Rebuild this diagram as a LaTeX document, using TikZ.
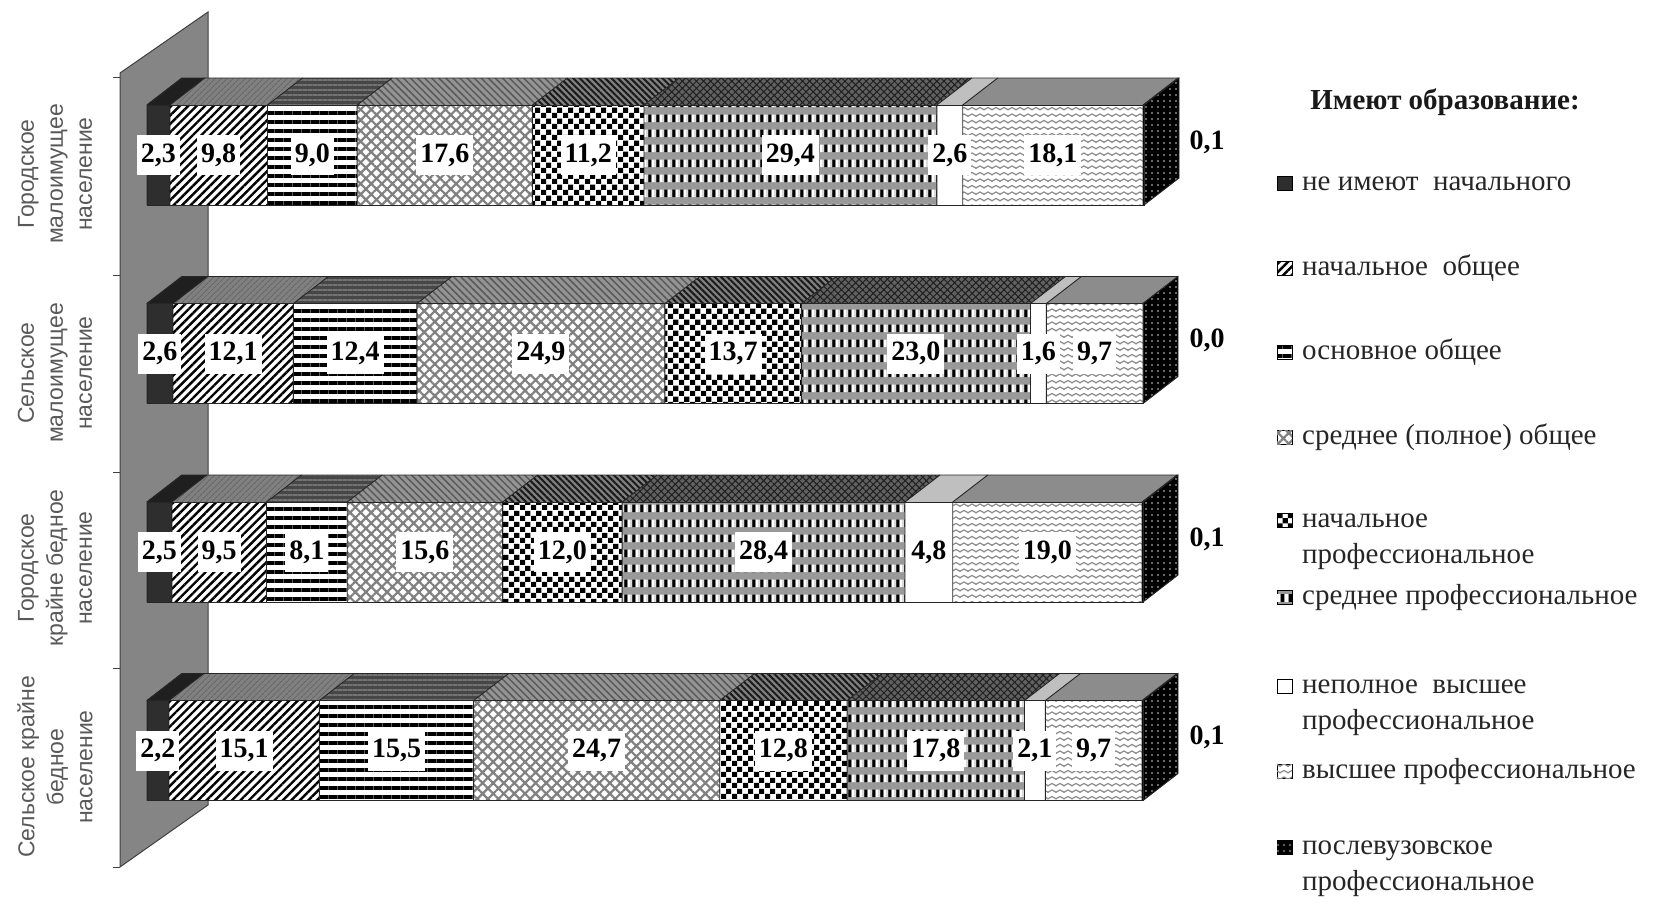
\documentclass[tikz,border=0pt]{standalone}
\usepackage{fontspec}
\setmainfont{Liberation Serif}
\newfontfamily\catfont{Liberation Sans}
\usetikzlibrary{patterns,patterns.meta}

\pgfdeclarepatternformonly{mychecker}{\pgfpointorigin}{\pgfqpoint{10.6pt}{10.6pt}}{\pgfqpoint{10.6pt}{10.6pt}}{%
 \pgfpathrectangle{\pgfpointorigin}{\pgfqpoint{5.3pt}{5.3pt}}%
 \pgfpathrectangle{\pgfqpoint{5.3pt}{5.3pt}}{\pgfqpoint{5.3pt}{5.3pt}}%
 \pgfusepath{fill}}

\pgfdeclarepatterninherentlycolored{vdash}{\pgfpointorigin}{\pgfqpoint{8pt}{15pt}}{\pgfqpoint{8pt}{15pt}}{%
 \pgfsetfillcolor{black}\pgfpathrectangle{\pgfqpoint{0.5pt}{3pt}}{\pgfqpoint{3pt}{8pt}}\pgfusepath{fill}%
 \pgfsetfillcolor{white}\pgfpathrectangle{\pgfqpoint{4.5pt}{3pt}}{\pgfqpoint{3pt}{8pt}}\pgfusepath{fill}}

\pgfdeclarepatternformonly{wavy}{\pgfqpoint{-1pt}{-1pt}}{\pgfqpoint{9pt}{7.5pt}}{\pgfqpoint{8pt}{6.5pt}}{%
 \pgfsetlinewidth{1.2pt}%
 \pgfpathmoveto{\pgfqpoint{-0.5pt}{2pt}}\pgfpathlineto{\pgfqpoint{4pt}{4.5pt}}\pgfpathlineto{\pgfqpoint{8.5pt}{2pt}}%
 \pgfusepath{stroke}}

\tikzset{
 edge/.style={draw=black!85, line width=0.9pt},
 wall/.style={fill=black!48, draw=black!75, line width=1pt},
 front1/.style={fill=black!82},
 front2/.style={fill=white, postaction={pattern={Lines[angle=45,distance=6pt,line width=2.4pt]}, pattern color=black}},
 front3/.style={fill=white, postaction={pattern={Lines[angle=0,distance=9pt,line width=4.5pt]}, pattern color=black}},
 front4/.style={fill=white, postaction={pattern={Hatch[angle=45,distance=7.5pt,line width=2.2pt]}, pattern color=black!50}},
 front5/.style={fill=white, postaction={pattern=mychecker, pattern color=black}},
 front6/.style={fill=black!40, postaction={pattern=vdash}},
 front7/.style={fill=white},
 front8/.style={fill=white, postaction={pattern=wavy, pattern color=black!45}},
 front9/.style={fill=black, postaction={pattern={Dots[distance=6pt,radius=1.1pt]}, pattern color=black!50}},
 top1/.style={fill=black!88},
 top2/.style={fill=black!50, postaction={pattern={Lines[angle=45,distance=4pt,line width=1pt]}, pattern color=black!60}},
 top3/.style={fill=black!72, postaction={pattern={Lines[angle=0,distance=5pt,line width=1.5pt]}, pattern color=black!55}},
 top4/.style={fill=black!42, postaction={pattern={Lines[angle=-45,distance=5pt,line width=1.5pt]}, pattern color=black!65}},
 top5/.style={fill=black!50, postaction={pattern={Lines[angle=-45,distance=4.5pt,line width=2pt]}, pattern color=black!90}},
 top6/.style={fill=black!62, postaction={pattern={Hatch[angle=45,distance=5pt,line width=1pt]}, pattern color=black!88}},
 top7/.style={fill=black!25},
 top8/.style={fill=black!45},
 top9/.style={fill=black},
 side/.style={fill=black, postaction={pattern={Dots[distance=6pt,radius=1.2pt]}, pattern color=black!45}},
 vlab/.style={fill=white, font=\bfseries\fontsize{28}{30}\selectfont, inner xsep=4pt, inner ysep=0pt, minimum height=40pt},
 vout/.style={font=\bfseries\fontsize{28}{30}\selectfont, inner sep=0pt},
 cat/.style={rotate=90, align=center, text=black!65, font=\catfont\fontsize{23}{29}\selectfont},
 lgt/.style={font=\fontsize{29}{36}\selectfont, text=black!85, anchor=base west, align=left, inner sep=0pt},
 lmark/.style={draw=black, line width=0.8pt},
}

\newcommand\mybar[3]{%
  \xdef\xs{147}%
  \foreach \v [count=\i] in {#3}{%
    \pgfmathsetmacro\xe{\xs+0.996*\v}%
    \path[front\i] (\xs,#2) rectangle (\xe,#2+100);
    \path[top\i] (\xs,#2) -- (\xe,#2) -- (\xe+35,#2-27) -- (\xs+35,#2-27) -- cycle;
    \draw[edge] (\xs,#2+100) -- (\xs,#2) -- (\xs+35,#2-27);
    \xdef\xs{\xe}%
  }
  \path[side] (\xs,#2) -- (\xs+35,#2-27) -- (\xs+35,#2+73) -- (\xs,#2+100) -- cycle;
  \draw[edge] (147,#2) rectangle (\xs,#2+100);
  \draw[edge] (\xs,#2) -- (\xs+35,#2-27) -- (\xs+35,#2+73) -- (\xs,#2+100);
  \draw[edge] (147,#2) -- (182,#2-27) -- (\xs+35,#2-27);
  \xdef\xs{147}%
  \foreach \v [count=\i] in {#3}{%
    \pgfmathsetmacro\xe{\xs+0.996*\v}%
    \pgfmathtruncatemacro\ia{\v/10}%
    \pgfmathtruncatemacro\ib{\v-10*\ia}%
    \ifnum\i<9
      \node[vlab] (v#1-\i) at ({(\xs+\xe)/2},#2+50) {\ia,\ib};
    \else
      \node[vout] (v#1-\i) at (1207,#2+37) {\ia,\ib};
    \fi
    \xdef\xs{\xe}%
  }
}

\begin{document}
\begin{tikzpicture}[x=1pt,y=-1pt]
\useasboundingbox (0,0) rectangle (1658,905);
% back wall
\path[wall] (120,73) -- (208,12) -- (208,805) -- (120,867) -- cycle;
\foreach \t in {77,275,472,668,867} \draw[black!75, line width=1pt] (113,\t) -- (120,\t);

\mybar{1}{105}{23,98,90,176,112,294,26,181,1}
\mybar{2}{303.5}{26,121,124,249,137,230,16,97,0}
\mybar{3}{502}{25,95,81,156,120,284,48,190,1}
\mybar{4}{700.5}{22,151,155,247,128,178,21,97,1}

% category labels
\node[cat] (c1) at (55,174) {Городское\\малоимущее\\население};
\node[cat] (c2) at (55,373) {Сельское\\малоимущее\\население};
\node[cat] (c3) at (55,568) {Городское\\крайне бедное\\население};
\node[cat] (c4) at (55,767) {Сельское крайне\\бедное\\население};

% legend
\node[font=\bfseries\fontsize{29}{35}\selectfont, text=black!90] (lt) at (1445,102) {Имеют образование:};
\path[front1, lmark] (1277,176) rectangle (1292,190);
\node[lgt] (l1) at (1302,190) {не имеют\ \ начального};
\path[front2, lmark] (1277,261) rectangle (1292,275);
\node[lgt] (l2) at (1302,275) {начальное\ \ общее};
\path[front3, lmark] (1277,345) rectangle (1292,359);
\node[lgt] (l3) at (1302,359) {основное общее};
\path[front4, lmark] (1277,430) rectangle (1292,444);
\node[lgt] (l4) at (1302,444) {среднее (полное) общее};
\path[front5, lmark] (1277,513) rectangle (1292,527);
\node[lgt] (l5) at (1302,563) {начальное\\профессиональное};
\path[front6, lmark] (1277,590) rectangle (1292,604);
\node[lgt] (l6) at (1302,604) {среднее профессиональное};
\path[front7, lmark] (1277,679) rectangle (1292,693);
\node[lgt] (l7) at (1302,729) {неполное\ \ высшее\\профессиональное};
\path[front8, lmark] (1277,764) rectangle (1292,778);
\node[lgt] (l8) at (1302,778) {высшее профессиональное};
\path[front9, lmark] (1277,840) rectangle (1292,854);
\node[lgt] (l9) at (1302,890) {послевузовское\\профессиональное};
\end{tikzpicture}
\end{document}
